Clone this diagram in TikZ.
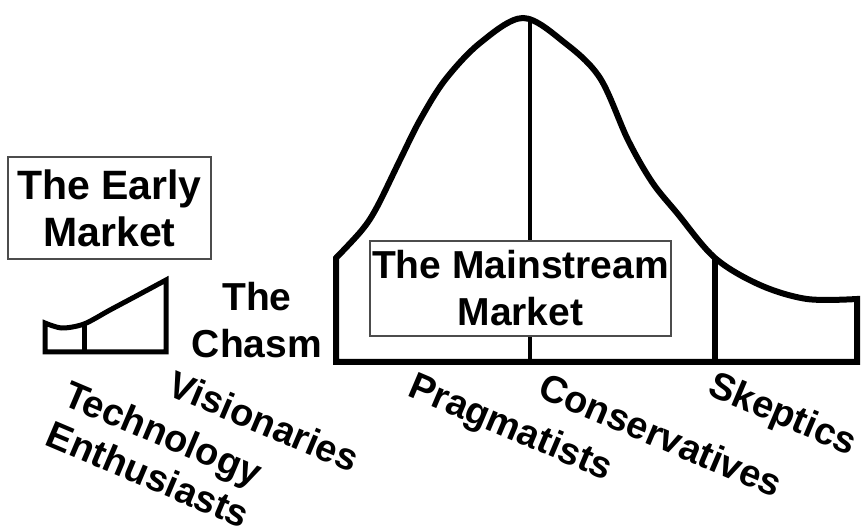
\documentclass[tikz,border=0pt]{standalone}
\usepackage{fontspec}
\setmainfont{Liberation Sans}
\usepackage{tikz}
\usetikzlibrary{positioning}
\tikzset{
    marketbox/.style={
        draw=black!70, line width=1.3pt, fill=white, inner sep=0pt, align=center
    },
    bigtext/.style={font=\fontsize{#1}{47}\selectfont\bfseries},
    adopter/.style={rotate=-23, align=left, inner sep=0pt,
        font=\fontsize{38}{44}\selectfont\bfseries},
    curve/.style={line width=6pt},
    divider/.style={line width=5pt}
}

\begin{document}
\begin{tikzpicture}[x=1pt, y=-1pt]
    \useasboundingbox (0,0) rectangle (863,529);

    % early market
    \draw[divider] (45,352) -- plot[smooth] coordinates {(45,323) (62,328) (84,324) (110,310) (140,294) (166,280)}
        -- (166,352) -- cycle;
    \draw[divider] (84,324) -- (84,352);

    % mainstream market
    \draw[curve] (336,362) -- plot[smooth, tension=0.55] coordinates {
        (336,258) (362,230) (377,207) (400,160) (420,120) (445,80) (480,43)
        (523,18) (565,43) (600,78) (628,140) (652,182) (677,213) (715,258)
        (760,285) (807,299) (857,299)} -- (857,362) -- cycle;
    \draw[line width=4.5pt] (530,18) -- (530,362);
    \draw[curve] (715,258) -- (715,362);

    \node[marketbox, bigtext=41, minimum width=203, minimum height=102] (early) at (109.5,208) {The Early\\Market};
    \node[marketbox, bigtext=39, minimum width=301, minimum height=95] (main) at (520.5,288.5) {The Mainstream\\Market};
    \node[bigtext=39, align=center, inner sep=0pt] (chasm) at (257,320) {The\\Chasm};

    % adopter groups
    \node[adopter] (tech) at (157,454) {Technology\\Enthusiasts};
    \node[adopter] (vis) at (264,421) {Visionaries};
    \node[adopter] (prag) at (510,429) {Pragmatists};
    \node[adopter] (cons) at (661,435) {Conservatives};
    \node[adopter] (skep) at (782,416) {Skeptics};
\end{tikzpicture}
\end{document}
